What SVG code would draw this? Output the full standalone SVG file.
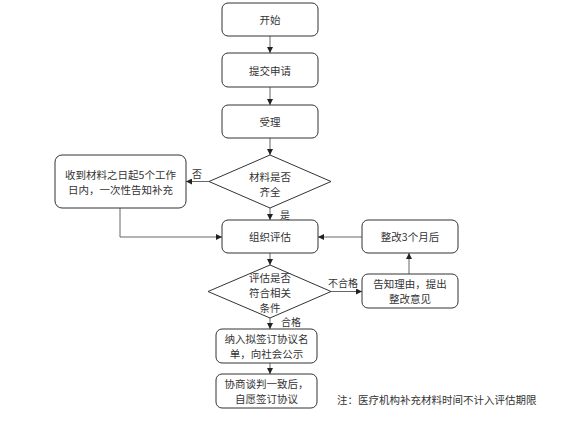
<svg xmlns="http://www.w3.org/2000/svg" width="573" height="435" viewBox="0 0 573 435">
<defs>
<marker id="ah" markerWidth="6" markerHeight="6" refX="6" refY="3" orient="auto" markerUnits="userSpaceOnUse">
<path d="M0,0 L6,3 L0,6 Z" fill="#222"/>
</marker>
<style>
.n{fill:#fff;stroke:#333;stroke-width:1}
.t{font-family:"Noto Sans CJK SC","Liberation Sans",sans-serif;font-size:10.5px;fill:#333;text-anchor:middle;dominant-baseline:central}
.l{font-family:"Noto Sans CJK SC","Liberation Sans",sans-serif;font-size:10px;fill:#333;dominant-baseline:central}
.c{fill:none;stroke:#666;stroke-width:1;marker-end:url(#ah)}
</style>
</defs>
<rect width="573" height="435" fill="#fff"/>
<g id="connectors">
<path class="c" d="M270,36 V53"/>
<path class="c" d="M270,87 V105"/>
<path class="c" d="M270,138 V155"/>
<path class="c" d="M209,181.5 H186"/>
<path class="c" d="M270,208 V220"/>
<path class="c" d="M120,208 V237 H222"/>
<path class="c" d="M270,253 V265"/>
<path class="c" d="M331,291.5 H362"/>
<path class="c" d="M409,274 V253"/>
<path class="c" d="M362,237 H318"/>
<path class="c" d="M270,318 V329"/>
<path class="c" d="M270,363 V374"/>
<text class="l" x="192" y="173">否</text>
<text class="l" x="280" y="214">是</text>
<text class="l" x="328" y="282">不合格</text>
<text class="l" x="281" y="321">合格</text>
</g>
<g id="start"><rect class="n" x="222" y="3" width="96" height="33" rx="6"/><text class="t" x="270" y="19.5">开始</text></g>
<g id="submit"><rect class="n" x="222" y="53" width="96" height="34" rx="6"/><text class="t" x="270" y="70">提交申请</text></g>
<g id="accept"><rect class="n" x="222" y="105" width="96" height="33" rx="6"/><text class="t" x="270" y="121.5">受理</text></g>
<g id="check"><polygon class="n" points="270,155 331,181.5 270,208 209,181.5"/><text class="t" x="270" y="176">材料是否</text><text class="t" x="270" y="191.3">齐全</text></g>
<g id="notify"><rect class="n" x="55" y="155" width="131" height="53" rx="7"/><text class="t" x="120.5" y="174.5">收到材料之日起5个工作</text><text class="t" x="120.5" y="189.8">日内，一次性告知补充</text></g>
<g id="evaluate"><rect class="n" x="222" y="220" width="96" height="33" rx="6"/><text class="t" x="270" y="236.5">组织评估</text></g>
<g id="meets"><polygon class="n" points="270,265 331,291.5 270,318 208,291.5"/><text class="t" x="270" y="277">评估是否</text><text class="t" x="270" y="292.3">符合相关</text><text class="t" x="270" y="307.6">条件</text></g>
<g id="reason"><rect class="n" x="362" y="274" width="96" height="34" rx="6"/><text class="t" x="410" y="283.5">告知理由，提出</text><text class="t" x="410" y="298.8">整改意见</text></g>
<g id="rectify"><rect class="n" x="362" y="220" width="96" height="33" rx="6"/><text class="t" x="410" y="236.5">整改3个月后</text></g>
<g id="list"><rect class="n" x="216" y="329" width="101" height="34" rx="6"/><text class="t" x="266.5" y="338.5">纳入拟签订协议名</text><text class="t" x="266.5" y="353.8">单，向社会公示</text></g>
<g id="sign"><rect class="n" x="216" y="374" width="101" height="34" rx="6"/><text class="t" x="266.5" y="383.5">协商谈判一致后，</text><text class="t" x="266.5" y="398.8">自愿签订协议</text></g>
<text class="l" x="337" y="399" style="font-size:10.5px">注：医疗机构补充材料时间不计入评估期限</text>
</svg>
